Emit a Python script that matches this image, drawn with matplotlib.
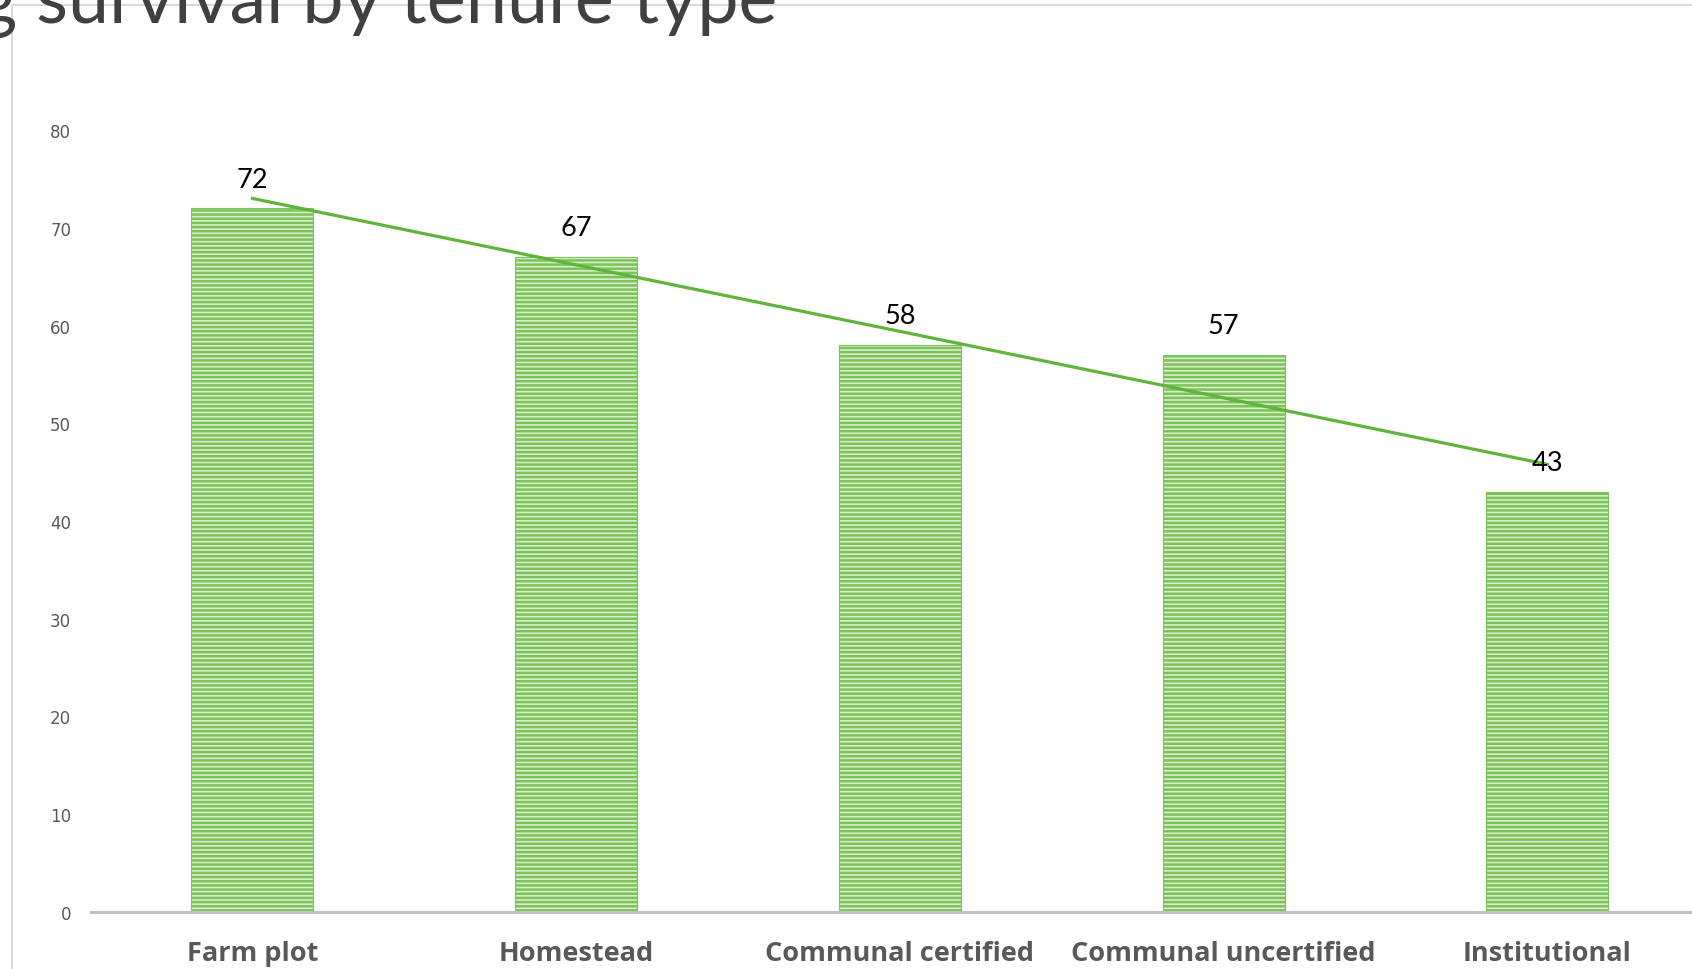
import matplotlib
matplotlib.use("Agg")
import matplotlib.pyplot as plt
import numpy as np
from matplotlib.lines import Line2D

# 数据
categories = ["Farm plot", "Homestead", "Communal certified", "Communal uncertified", "Institutional"]
survival = [72, 67, 58, 57, 43]
yticks = [0, 10, 20, 30, 40, 50, 60, 70, 80]
title_text = "g survival by tenure type"

W, H = 1692, 970
fig = plt.figure(figsize=(W / 100, H / 100), dpi=100)

# 外框线（图表区域边框，右侧与底部被裁掉）
fig.add_artist(Line2D([12 / W, 1.0], [1 - 6 / H, 1 - 6 / H], color="#d9d9d9", linewidth=1.5))
fig.add_artist(Line2D([12 / W, 12 / W], [0.0, 1 - 6 / H], color="#d9d9d9", linewidth=1.5))

# 绘图区右侧超出画布
ax = fig.add_axes([90.6 / W, (H - 913) / H, 1618.5 / W, (913 - 131) / H])
x = np.arange(len(categories))
plt.rcParams["hatch.linewidth"] = 1.8
plt.rcParams["hatch.color"] = "#5eb23a"
ax.bar(x, survival, width=0.377, color="#d8eecb", edgecolor="#7cc35a", linewidth=0.8,
       hatch="----", zorder=2)

for xi, v in zip(x, survival):
    ax.annotate(str(v), (xi, v), xytext=(0, 21), textcoords="offset points",
                ha="center", va="center", fontsize=19.5, color="black", family="Lato", zorder=4)

# 线性趋势线
k, b = np.polyfit(x, survival, 1)
ax.plot([x[0], x[-1]], [k * x[0] + b, k * x[-1] + b], color="#5fb53c", linewidth=2.3, zorder=3)

ax.set_xlim(-0.5, len(categories) - 0.5)
ax.set_ylim(0, 80)
ax.set_yticks(yticks)
ax.set_xticks(x)
ax.set_xticklabels(categories, fontsize=19.5, fontweight="bold", color="#595959", family="Open Sans")
ax.tick_params(axis="x", length=0, pad=20.5)
ax.tick_params(axis="y", length=0, pad=14, labelsize=12, labelcolor="#595959")
for s in ["top", "right", "left"]:
    ax.spines[s].set_visible(False)
ax.spines["bottom"].set_color("#c0c0c0")
ax.spines["bottom"].set_linewidth(2.2)
ax.set_facecolor("none")

fig.text(777 / W, 1 - 23 / H, title_text, ha="right", va="baseline", fontsize=53,
         color="#404040", family="Lato")

fig.savefig("out.png", dpi=100)
